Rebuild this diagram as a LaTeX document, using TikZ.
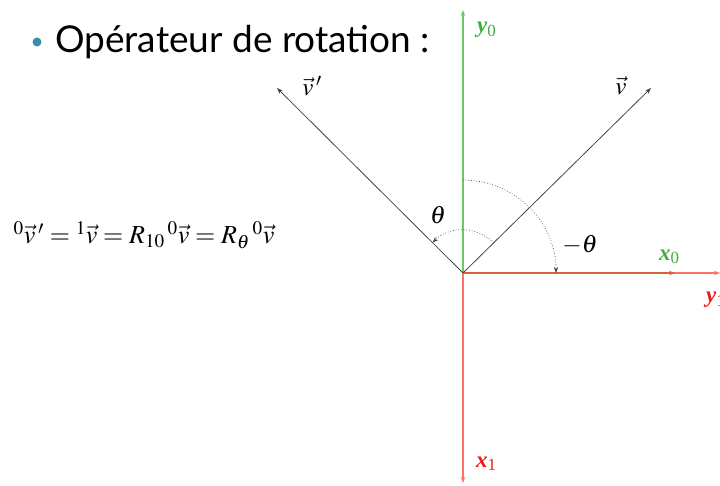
\documentclass[tikz,border=0pt]{standalone}
\usepackage{mathptmx}
\usepackage{fontspec}
\setmainfont{Liberation Serif}
\newfontfamily\titlefont{Lato}
\usetikzlibrary{arrows.meta}
\definecolor{axgreen}{RGB}{105,200,105}
\definecolor{lblgreen}{RGB}{60,175,60}
\definecolor{axred}{RGB}{250,115,105}
\definecolor{mixline}{RGB}{215,100,55}
\definecolor{lblred}{RGB}{235,25,25}
\definecolor{vecgray}{RGB}{70,70,70}
\definecolor{bulletcol}{RGB}{60,140,165}
\tikzset{
  arrowtip/.style={-{Stealth[length=6pt,width=4.5pt]}},
  axline/.style={line width=1.1pt, arrowtip},
  vecline/.style={draw=vecgray, line width=0.8pt, arrowtip},
  arcline/.style={draw=vecgray, line width=0.7pt, dotted, arrowtip},
  lbl/.style={inner sep=0pt, font=\fontsize{25}{27}\selectfont},
}
\begin{document}
\begin{tikzpicture}[x=1pt,y=1pt]
\useasboundingbox (0,0) rectangle (720,485);
% coordinates
\coordinate (O) at (463,212);
\coordinate (Y0) at (463,475);
\coordinate (X0) at (675,212);
\coordinate (Y1) at (720,212);
\coordinate (X1) at (463,2);
\coordinate (V) at (651,397);
\coordinate (VP) at (277,397);
% axes
\draw[axline, draw=axgreen, fill=axgreen] (O) -- (Y0);
\draw[axline, draw=axred, fill=axred] (O) -- (Y1);
\draw[axline, draw=mixline, fill=lblgreen] (O) -- (X0);
\draw[axline, draw=axred, fill=axred] (O) -- (X1);
% vectors
\draw[vecline] (O) -- (V);
\draw[vecline] (O) -- (VP);
% arcs
\draw[arcline] ([shift={(45:43)}]O) arc[start angle=45, end angle=135, radius=43];
\draw[arcline] ([shift={(90:93)}]O) arc[start angle=90, end angle=0, radius=93];
% labels
\node[lbl] (lv) at (621,399) {$\vec{v}$};
\node[lbl] (lvp) at (312,399) {$\vec{v}\,'$};
\node[lbl] (lth) at (438,270) {$\theta$};
\node[lbl] (lmth) at (580,240) {$-\theta$};
\node[lbl, font=\fontsize{23}{25}\selectfont, text=lblgreen, anchor=south west] (lx0) at (659,221) {\textbf{\textit{x}}\textsubscript{\normalfont 0}};
\node[lbl, font=\fontsize{23}{25}\selectfont, text=lblgreen, anchor=south west] (ly0) at (477,447) {\textbf{\textit{y}}\textsubscript{\normalfont 0}};
\node[lbl, font=\fontsize{23}{25}\selectfont, text=lblred, anchor=south west] (lx1) at (476,14) {\textbf{\textit{x}}\textsubscript{\normalfont 1}};
\node[lbl, font=\fontsize{23}{25}\selectfont, text=lblred, anchor=south west] (ly1) at (706,177) {\textbf{\textit{y}}\textsubscript{\normalfont 1}};
% equation
\node[lbl, font=\fontsize{26}{28}\selectfont] (eq) at (144,250) {${}^{0}\vec{v}\,'={}^{1}\vec{v}=R_{10}\,{}^{0}\vec{v}=R_{\theta}\,{}^{0}\vec{v}$};
% title
\fill[bulletcol] (37,443) circle (4.5);
\node[inner sep=0pt, anchor=west, font=\titlefont\fontsize{37}{40}\selectfont] (title) at (55,443) {Opérateur de rotation :};
\end{tikzpicture}
\end{document}
